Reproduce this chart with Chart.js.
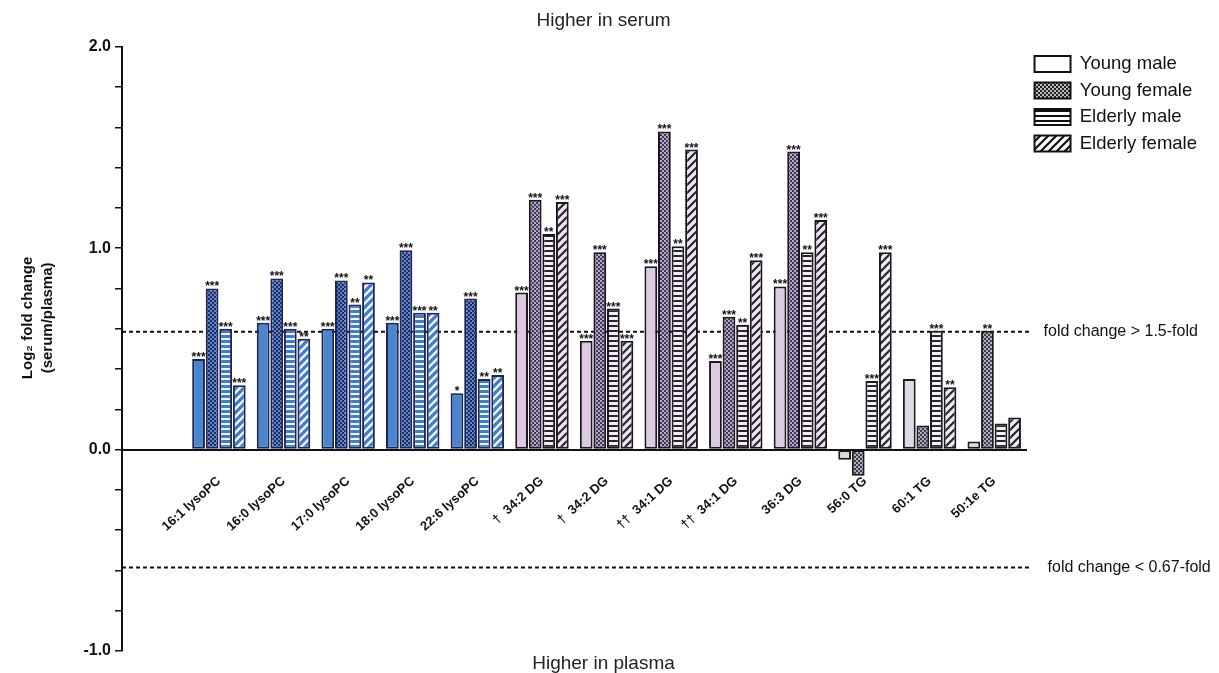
<!DOCTYPE html>
<html><head><meta charset="utf-8">
<script src="https://cdn.jsdelivr.net/npm/chart.js@4.4.0/dist/chart.umd.min.js"></script>
<style>html,body{margin:0;padding:0;background:#fff;}</style>
</head><body>
<canvas id="c" width="1219" height="673"></canvas>
<script>
// ---------- data ----------
const categories = ['16:1 lysoPC','16:0 lysoPC','17:0 lysoPC','18:0 lysoPC','22:6 lysoPC',
  '\u2020  34:2 DG','\u2020  34:2 DG','\u2020\u2020  34:1 DG','\u2020\u2020  34:1 DG','36:3 DG',
  '56:0 TG','60:1 TG','50:1e TG'];
const seriesNames = ['Young male','Young female','Elderly male','Elderly female'];
const youngMale     = [0.45, 0.63, 0.60, 0.63, 0.28, 0.78, 0.54, 0.91, 0.44, 0.81, -0.05, 0.35, 0.04];
const youngFemale   = [0.80, 0.85, 0.84, 0.99, 0.75, 1.24, 0.98, 1.58, 0.66, 1.48, -0.13, 0.12, 0.59];
const elderlyMale   = [0.60, 0.60, 0.72, 0.68, 0.35, 1.07, 0.70, 1.01, 0.62, 0.98, 0.34, 0.59, 0.13];
const elderlyFemale = [0.32, 0.55, 0.83, 0.68, 0.37, 1.23, 0.54, 1.49, 0.94, 1.14, 0.98, 0.31, 0.16];
const starsYM = ['***','***','***','***','*','***','***','***','***','***','','',''];
const starsYF = ['***','***','***','***','***','***','***','***','***','***','','','**'];
const starsEM = ['***','***','**','***','**','**','***','**','**','**','***','***',''];
const starsEF = ['***','**','**','**','**','***','***','***','***','***','***','**',''];
const yTicks = [-1.0, 0.0, 1.0, 2.0];
const foldUp = Math.log2(1.5);
const foldDown = -Math.log2(1.5);
const foldLabels = ['fold change > 1.5-fold', 'fold change < 0.67-fold'];

// library labels: one empty slot at the start leaves the gap before the first group
const labels = [''].concat(categories);
const pad = arr => [null].concat(arr);
const allStars = [starsYM, starsYF, starsEM, starsEF];

// ---------- patterns ----------
const FONT = "'Liberation Sans', Arial, sans-serif";
function tile(w, h, draw){ const c=document.createElement('canvas'); c.width=w; c.height=h; const g=c.getContext('2d'); draw(g,w,h); return g.createPattern(c,'repeat'); }
function dots(dark, light){ return tile(4,4,g=>{g.fillStyle=dark;g.fillRect(0,0,4,4);g.fillStyle=light;g.fillRect(0,0,2,2);g.fillRect(2,2,2,2);}); }
function hstripes(bg, fg, fgH){ return tile(4,5,g=>{g.fillStyle=bg;g.fillRect(0,0,4,5);g.fillStyle=fg;g.fillRect(0,0,4,fgH);}); }
function diag(bg, fg, lw){ return tile(8,8,g=>{g.fillStyle=bg;g.fillRect(0,0,8,8);g.strokeStyle=fg;g.lineWidth=lw;g.beginPath();
  g.moveTo(-2,10);g.lineTo(10,-2);g.moveTo(-2,2);g.lineTo(2,-2);g.moveTo(6,10);g.lineTo(10,6);g.stroke();}); }

const styles = {
  lysoPC: { border:'#1c2552', fills:[ '#4a86d0', dots('#1c2a62','#5f86c8'), hstripes('#f2f6fc','#3f7ccc',3), diag('#f4f7fc','#3f7ccc',3.2) ] },
  DG:     { border:'#1a1520', fills:[ '#dccbe0', dots('#43355a','#b7a7c6'), hstripes('#f3eef5','#2a2230',2), diag('#ede5f0','#2a2230',2.2) ] },
  TG:     { border:'#1a1a1e', fills:[ '#dcdbe3', dots('#3e3a4a','#b0acc0'), hstripes('#f3f2f6','#26242c',2), diag('#eeedf2','#26242c',2.2) ] }
};
const legendFills = [ '#ffffff', dots('#222222','#bbbbbb'), hstripes('#ffffff','#111111',2), diag('#ffffff','#111111',2.2) ];
function lipidClass(label){ return label.indexOf('lysoPC')>=0 ? 'lysoPC' : (label.indexOf('DG')>=0 ? 'DG' : 'TG'); }

function makeDataset(i, values){
  return {
    label: seriesNames[i],
    data: pad(values),
    backgroundColor: ctx => { const l = labels[ctx.dataIndex]; if (!l) return '#000'; return styles[lipidClass(l)].fills[i]; },
    borderColor: ctx => { const l = labels[ctx.dataIndex]; if (!l) return '#000'; return styles[lipidClass(l)].border; },
    borderWidth: 2,
    borderSkipped: false,
    categoryPercentage: 0.84,
    barPercentage: 0.94
  };
}

// ---------- plugins ----------
const refLines = {
  id: 'refLines',
  beforeDatasetsDraw(chart){
    const {ctx, chartArea, scales:{y}} = chart;
    ctx.save();
    ctx.strokeStyle = '#111'; ctx.lineWidth = 2; ctx.setLineDash([4,3]);
    [foldUp, foldDown].forEach(v => { const py = y.getPixelForValue(v);
      ctx.beginPath(); ctx.moveTo(chartArea.left, py); ctx.lineTo(chartArea.right + 5, py); ctx.stroke(); });
    ctx.setLineDash([]);
    ctx.fillStyle = '#111'; ctx.font = '16px ' + FONT; ctx.textBaseline = 'middle'; ctx.textAlign = 'left';
    ctx.fillText(foldLabels[0], chartArea.right + 17, y.getPixelForValue(foldUp));
    ctx.fillText(foldLabels[1], chartArea.right + 21, y.getPixelForValue(foldDown));
    ctx.restore();
  }
};
const starLabels = {
  id: 'starLabels',
  afterDatasetsDraw(chart){
    const {ctx} = chart;
    ctx.save();
    ctx.fillStyle = '#111'; ctx.font = 'bold 12px ' + FONT; ctx.textAlign = 'center'; ctx.textBaseline = 'alphabetic';
    chart.data.datasets.forEach((ds, di) => {
      const meta = chart.getDatasetMeta(di);
      if (meta.hidden) return;
      meta.data.forEach((el, idx) => {
        if (idx === 0) return;
        const s = allStars[di][idx-1];
        if (s) ctx.fillText(s, el.x, el.y + 2);
      });
    });
    ctx.restore();
  }
};
const yTitle = {
  id: 'yTitle',
  afterDraw(chart){
    const {ctx, chartArea} = chart;
    ctx.save();
    ctx.fillStyle = '#111'; ctx.font = 'bold 15px ' + FONT; ctx.textAlign = 'center'; ctx.textBaseline = 'middle';
    const cy = (chartArea.top + chartArea.bottom)/2 - 31;
    ctx.translate(28, cy); ctx.rotate(-Math.PI/2);
    ctx.fillText('Log\u2082 fold change', 0, 0);
    ctx.fillText('(serum/plasma)', 0, 20);
    ctx.restore();
  }
};

new Chart(document.getElementById('c'), {
  type: 'bar',
  data: {
    labels: labels,
    datasets: [makeDataset(0, youngMale), makeDataset(1, youngFemale), makeDataset(2, elderlyMale), makeDataset(3, elderlyFemale)]
  },
  options: {
    responsive: false,
    animation: false,
    layout: { padding: { left: 0, right: 12, top: 0, bottom: 0 } },
    scales: {
      x: {
        type: 'category',
        position: { y: 0 },
        grid: { display: false },
        border: { display: true, color: '#111', width: 2 },
        ticks: { autoSkip: false, maxRotation: 42, minRotation: 42, padding: 16, color: '#111', font: { family: FONT, size: 13, weight: 'bold' } }
      },
      y: {
        min: -1, max: 2,
        afterFit: scale => { scale.width = 122; },
        grid: { drawOnChartArea: false, drawTicks: true, tickLength: 7, color: '#111', lineWidth: 1.5 },
        border: { display: true, color: '#111', width: 2 },
        ticks: { stepSize: 0.2, padding: 4, color: '#111', font: { family: FONT, size: 16, weight: 'bold' },
          callback: v => { const m = yTicks.find(t => Math.abs(t - v) < 1e-6); return m === undefined ? '' : m.toFixed(1); } }
      }
    },
    plugins: {
      tooltip: { enabled: false },
      title: { display: true, text: 'Higher in serum', color: '#222', font: { family: FONT, size: 19, weight: 'normal' }, padding: { top: 9, bottom: 15 } },
      subtitle: { display: true, position: 'bottom', text: 'Higher in plasma', color: '#222', font: { family: FONT, size: 19, weight: 'normal', lineHeight: 1.0 }, padding: { top: 3, bottom: 0 } },
      legend: {
        position: 'right', align: 'start', fullSize: false,
        labels: {
          boxWidth: 36, boxHeight: 16, padding: 8, color: '#111', font: { family: FONT, size: 18.5 },
          generateLabels: chart => chart.data.datasets.map((ds, i) => ({
            text: ds.label, fillStyle: legendFills[i], strokeStyle: '#111', lineWidth: 2,
            hidden: !chart.isDatasetVisible(i), datasetIndex: i, fontColor: '#111'
          }))
        }
      }
    }
  },
  plugins: [refLines, starLabels, yTitle]
});
</script>
</body></html>
